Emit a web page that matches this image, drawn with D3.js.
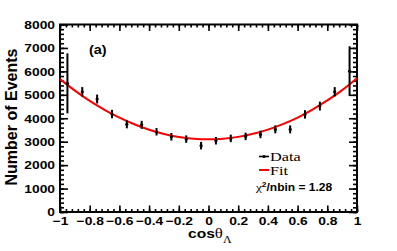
<!DOCTYPE html>
<html>
<head>
<meta charset="utf-8">
<script src="https://cdn.jsdelivr.net/npm/d3@7"></script>
<style>
  body { margin: 0; background: #fff; }
  svg { display: block; }
  .axis path, .axis line { stroke: #000; }
</style>
</head>
<body>
<div id="chart"></div>
<script>
// bin centres and counts
var binCentres = [-0.95, -0.85, -0.75, -0.65, -0.55, -0.45, -0.35, -0.25, -0.15, -0.05,
                  0.05, 0.15, 0.25, 0.35, 0.45, 0.55, 0.65, 0.75, 0.85, 0.95];
var counts = [5490, 5130, 4820, 4180, 3740, 3720, 3425, 3210, 3110, 2830,
              3040, 3140, 3225, 3310, 3525, 3525, 4165, 4520, 5130, 6010];
var errors = [1280, 200, 190, 180, 170, 170, 160, 160, 160, 160,
              160, 160, 160, 160, 170, 170, 180, 190, 200, 1060];

// fit curve
var fitX = [-1, -0.9, -0.8, -0.7, -0.6, -0.5, -0.4, -0.3, -0.2, -0.1, 0,
            0.1, 0.2, 0.3, 0.4, 0.5, 0.6, 0.7, 0.8, 0.9, 1];
var fitY = [5670, 5180, 4745, 4360, 4025, 3745, 3510, 3330, 3200, 3125, 3100,
            3127, 3205, 3335, 3515, 3750, 4030, 4370, 4760, 5200, 5710];

var xMajor = [-1, -0.8, -0.6, -0.4, -0.2, 0, 0.2, 0.4, 0.6, 0.8, 1];
var xLabels = ["\u22121", "\u22120.8", "\u22120.6", "\u22120.4", "\u22120.2", "0", "0.2", "0.4", "0.6", "0.8", "1"];
var yMajor = [0, 1000, 2000, 3000, 4000, 5000, 6000, 7000, 8000];

var W = 397, H = 251;
var margin = {top: 24.5, right: 40, bottom: 39, left: 60};
var width = W - margin.left - margin.right,
    height = H - margin.top - margin.bottom;
var stretch = 1.2; // text in the picture is a bit wide

var x = d3.scaleLinear().domain([-1, 1]).range([0, width]);
var y = d3.scaleLinear().domain([0, 8000]).range([height, 0]);

var svg = d3.select("#chart").append("svg")
    .attr("width", W).attr("height", H)
    .style("font-family", "'Liberation Sans', Arial, sans-serif");

var g = svg.append("g")
    .attr("transform", "translate(" + margin.left + "," + margin.top + ")");

// minor ticks every 0.04 / 200
var xMinor = d3.range(0, 51).map(function(i) { return -1 + i * 0.04; });
var yMinor = d3.range(0, 41).map(function(i) { return i * 200; });

function minorAxis(axis, vals, size) {
  return axis.tickValues(vals).tickSize(size).tickSizeOuter(0).tickFormat("");
}

// bottom
g.append("g").attr("class", "axis")
    .attr("transform", "translate(0," + height + ")")
    .call(minorAxis(d3.axisBottom(x), xMinor, -3));
var xAx = g.append("g").attr("class", "axis")
    .attr("transform", "translate(0," + height + ")")
    .call(d3.axisBottom(x).tickValues(xMajor).tickSize(-6.5).tickSizeOuter(0).tickPadding(4.5)
      .tickFormat(function(d, i) { return xLabels[i]; }));
// top
g.append("g").attr("class", "axis")
    .call(minorAxis(d3.axisTop(x), xMinor, -3));
g.append("g").attr("class", "axis")
    .call(minorAxis(d3.axisTop(x), xMajor, -6.5));
// left
g.append("g").attr("class", "axis")
    .call(minorAxis(d3.axisLeft(y), yMinor, -4));
var yAx = g.append("g").attr("class", "axis")
    .call(d3.axisLeft(y).tickValues(yMajor).tickSize(-8).tickSizeOuter(0).tickPadding(4)
      .tickFormat(d3.format("d")));
// right
g.append("g").attr("class", "axis")
    .attr("transform", "translate(" + width + ",0)")
    .call(minorAxis(d3.axisRight(y), yMinor, -4));
g.append("g").attr("class", "axis")
    .attr("transform", "translate(" + width + ",0)")
    .call(minorAxis(d3.axisRight(y), yMajor, -8));

g.selectAll(".axis line").attr("stroke-width", 1.6);
g.selectAll(".axis path").remove();

[xAx, yAx].forEach(function(a) {
  a.selectAll("text")
      .attr("fill", "#000")
      .style("font-size", "11.5px")
      .style("font-weight", "bold")
      .attr("transform", "scale(" + stretch + ",1)");
});
yAx.selectAll("text").attr("x", -5 / stretch).attr("dy", "0.33em");

// frame
g.append("rect")
    .attr("width", width).attr("height", height)
    .attr("fill", "none").attr("stroke", "#000").attr("stroke-width", 2);

// fit
var line = d3.line()
    .x(function(d, i) { return x(fitX[i]); })
    .y(function(d) { return y(d); })
    .curve(d3.curveNatural);
g.append("path")
    .datum(fitY)
    .attr("d", line)
    .attr("fill", "none")
    .attr("stroke", "#ff0000")
    .attr("stroke-width", 2);

// data points with error bars
var pts = g.append("g").selectAll("g")
    .data(counts)
    .enter().append("g");
pts.append("line")
    .attr("x1", function(d, i) { return x(binCentres[i]); })
    .attr("x2", function(d, i) { return x(binCentres[i]); })
    .attr("y1", function(d, i) { return y(d - errors[i]); })
    .attr("y2", function(d, i) { return y(d + errors[i]); })
    .attr("stroke", "#000").attr("stroke-width", 2);
pts.append("circle")
    .attr("cx", function(d, i) { return x(binCentres[i]); })
    .attr("cy", function(d) { return y(d); })
    .attr("r", 1.6)
    .attr("fill", "#000");

// panel tag
svg.append("text")
    .attr("transform", "translate(89,54) scale(" + stretch + ",1)")
    .style("font-size", "12px").style("font-weight", "bold")
    .text("(a)");

// legend
svg.append("line").attr("x1", 259).attr("x2", 269).attr("y1", 156.5).attr("y2", 156.5)
    .attr("stroke", "#000").attr("stroke-width", 1.6);
svg.append("circle").attr("cx", 264).attr("cy", 156.5).attr("r", 1.6).attr("fill", "#000");
svg.append("text")
    .attr("transform", "translate(270,161) scale(1.25,1)")
    .style("font-family", "'Liberation Serif', 'Times New Roman', serif")
    .style("font-size", "13px")
    .text("Data");
svg.append("line").attr("x1", 259).attr("x2", 269).attr("y1", 170).attr("y2", 170)
    .attr("stroke", "#ff0000").attr("stroke-width", 2);
svg.append("text")
    .attr("transform", "translate(270,174.5) scale(1.25,1)")
    .style("font-family", "'Liberation Serif', 'Times New Roman', serif")
    .style("font-size", "13px")
    .text("Fit");

var chi = svg.append("text")
    .attr("transform", "translate(256,191) scale(1.2,1)")
    .style("font-size", "10px").style("font-weight", "bold");
chi.append("tspan").style("font-family", "'Liberation Serif', serif").style("font-weight", "normal")
    .style("font-size", "11px").text("\u03c7");
chi.append("tspan").attr("dy", -4).style("font-size", "7px").text("2");
chi.append("tspan").attr("dy", 4).text("/nbin = 1.28");

// axis titles
svg.append("text")
    .attr("transform", "translate(17,117) rotate(-90)")
    .attr("text-anchor", "middle")
    .style("font-size", "16px").style("font-weight", "bold")
    .text("Number of Events");

var xt = svg.append("text")
    .attr("transform", "translate(188,237.5) scale(" + stretch + ",1)")
    .style("font-size", "13px").style("font-weight", "bold");
xt.append("tspan").text("cos");
xt.append("tspan").style("font-family", "'Liberation Serif', serif").style("font-weight", "normal")
    .style("font-size", "14px").text("\u03b8");
xt.append("tspan").attr("dy", 5).style("font-family", "'Liberation Serif', serif")
    .style("font-weight", "normal").style("font-size", "10px").text("\u039b");
</script>
</body>
</html>
